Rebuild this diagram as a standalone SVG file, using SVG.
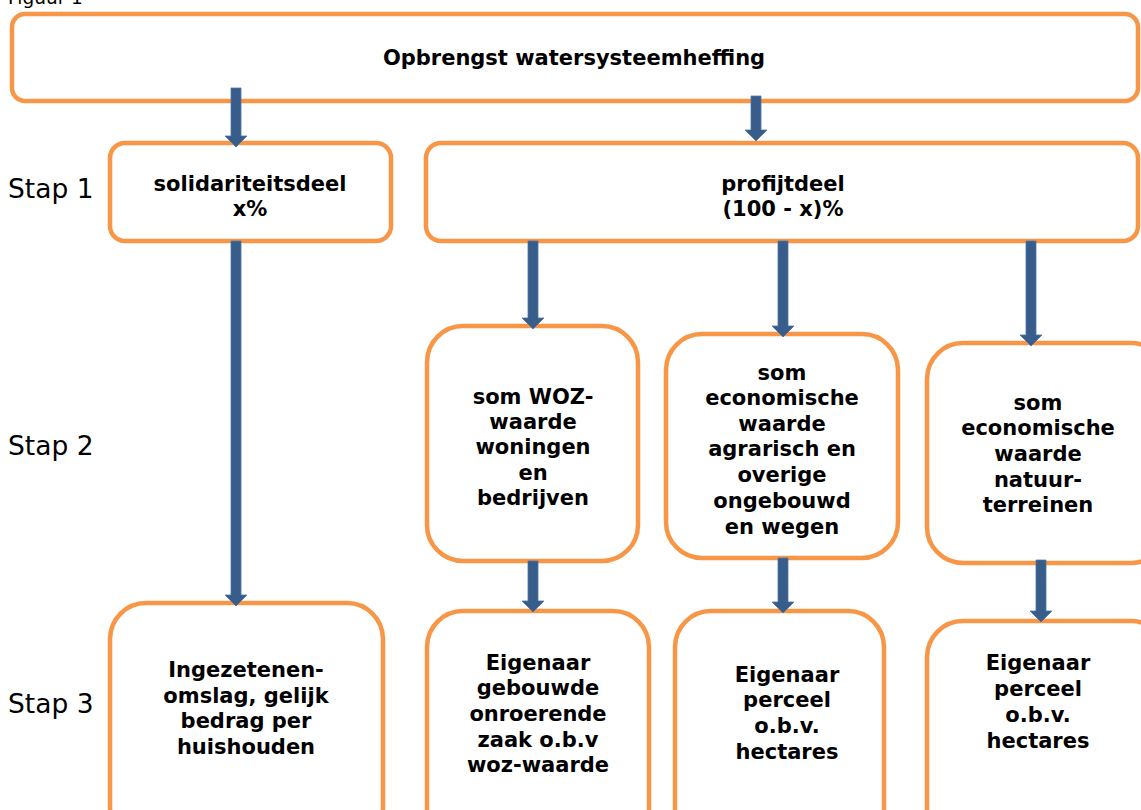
<svg xmlns="http://www.w3.org/2000/svg" width="1141" height="810" viewBox="0 0 1141 810">
<defs>
<style>
.box{fill:#fff;stroke:#F79646;stroke-width:4.5}
.t{font-family:"DejaVu Sans","Verdana",sans-serif;font-weight:bold;font-size:21px;fill:#000;text-anchor:middle}
.s{font-family:"DejaVu Sans","Verdana",sans-serif;font-size:26.5px;fill:#000}
.a{fill:#385D8A;stroke:#4F77A6;stroke-width:0.8}
</style>
</defs>
<rect width="1141" height="810" fill="#fff"/>
<text x="8" y="4" style="font-family:'DejaVu Sans',sans-serif;font-size:18.5px">Figuur 1</text>
<text class="s" x="8" y="188" dominant-baseline="central">Stap 1</text>
<text class="s" x="8" y="445" dominant-baseline="central">Stap 2</text>
<text class="s" x="8" y="703" dominant-baseline="central">Stap 3</text>

<g id="n-top"><rect class="box" x="12" y="14" width="1126" height="87" rx="13"/>
<text class="t" x="574" y="58" dominant-baseline="central">Opbrengst watersysteemheffing</text></g>

<g id="n-sol"><rect class="box" x="110" y="143" width="281" height="98" rx="15"/>
<text class="t" x="250" y="184" dominant-baseline="central">solidariteitsdeel</text>
<text class="t" x="250" y="209" dominant-baseline="central">x%</text></g>

<g id="n-prof"><rect class="box" x="426" y="143" width="712" height="98" rx="15"/>
<text class="t" x="783" y="184" dominant-baseline="central">profijtdeel</text>
<text class="t" x="783" y="209" dominant-baseline="central">(100 - x)%</text></g>

<g id="n-woz"><rect class="box" x="427" y="326" width="211" height="235" rx="36"/>
<text class="t" x="533" y="397" dominant-baseline="central">som WOZ-</text>
<text class="t" x="533" y="422" dominant-baseline="central">waarde</text>
<text class="t" x="533" y="447" dominant-baseline="central">woningen</text>
<text class="t" x="533" y="473" dominant-baseline="central">en</text>
<text class="t" x="533" y="498" dominant-baseline="central">bedrijven</text></g>

<g id="n-agr"><rect class="box" x="666" y="334" width="232" height="224" rx="36"/>
<text class="t" x="782" y="373" dominant-baseline="central">som</text>
<text class="t" x="782" y="398" dominant-baseline="central">economische</text>
<text class="t" x="782" y="424" dominant-baseline="central">waarde</text>
<text class="t" x="782" y="449" dominant-baseline="central">agrarisch en</text>
<text class="t" x="782" y="475" dominant-baseline="central">overige</text>
<text class="t" x="782" y="501" dominant-baseline="central">ongebouwd</text>
<text class="t" x="782" y="527" dominant-baseline="central">en wegen</text></g>

<g id="n-nat"><rect class="box" x="927" y="343" width="240" height="220" rx="36"/>
<text class="t" x="1038" y="403" dominant-baseline="central">som</text>
<text class="t" x="1038" y="428" dominant-baseline="central">economische</text>
<text class="t" x="1038" y="454" dominant-baseline="central">waarde</text>
<text class="t" x="1038" y="480" dominant-baseline="central">natuur-</text>
<text class="t" x="1038" y="505" dominant-baseline="central">terreinen</text></g>

<g id="n-inw"><rect class="box" x="110" y="603" width="273" height="240" rx="36"/>
<text class="t" x="246" y="670" dominant-baseline="central">Ingezetenen-</text>
<text class="t" x="246" y="696" dominant-baseline="central">omslag, gelijk</text>
<text class="t" x="246" y="721" dominant-baseline="central">bedrag per</text>
<text class="t" x="246" y="747" dominant-baseline="central">huishouden</text></g>

<g id="n-geb"><rect class="box" x="427" y="611" width="222" height="240" rx="36"/>
<text class="t" x="538" y="663" dominant-baseline="central">Eigenaar</text>
<text class="t" x="538" y="688" dominant-baseline="central">gebouwde</text>
<text class="t" x="538" y="714" dominant-baseline="central">onroerende</text>
<text class="t" x="538" y="740" dominant-baseline="central">zaak o.b.v</text>
<text class="t" x="538" y="765" dominant-baseline="central">woz-waarde</text></g>

<g id="n-perc1"><rect class="box" x="675" y="611" width="209" height="240" rx="36"/>
<text class="t" x="787" y="675" dominant-baseline="central">Eigenaar</text>
<text class="t" x="787" y="700" dominant-baseline="central">perceel</text>
<text class="t" x="787" y="726" dominant-baseline="central">o.b.v.</text>
<text class="t" x="787" y="752" dominant-baseline="central">hectares</text></g>

<g id="n-perc2"><rect class="box" x="927" y="621" width="240" height="240" rx="36"/>
<text class="t" x="1038" y="663" dominant-baseline="central">Eigenaar</text>
<text class="t" x="1038" y="689" dominant-baseline="central">perceel</text>
<text class="t" x="1038" y="715" dominant-baseline="central">o.b.v.</text>
<text class="t" x="1038" y="741" dominant-baseline="central">hectares</text></g>

<g id="connectors" class="a">
<path d="M231,88 V136 H225 L236,147 L247,136 H241 V88 Z"/>
<path d="M751,96 V130 H745 L756,141 L767,130 H761 V96 Z"/>
<path d="M231,241 V595 H225 L236,606 L247,595 H241 V241 Z"/>
<path d="M528,241 V318 H522 L533,329 L544,318 H538 V241 Z"/>
<path d="M778,241 V326 H772 L783,337 L794,326 H788 V241 Z"/>
<path d="M1026,241 V335 H1020 L1031,346 L1042,335 H1036 V241 Z"/>
<path d="M528,561 V601 H522 L533,612 L544,601 H538 V561 Z"/>
<path d="M778,558 V602 H772 L783,613 L794,602 H788 V558 Z"/>
<path d="M1036,560 V611 H1030 L1041,622 L1052,611 H1046 V560 Z"/>
</g>
</svg>
